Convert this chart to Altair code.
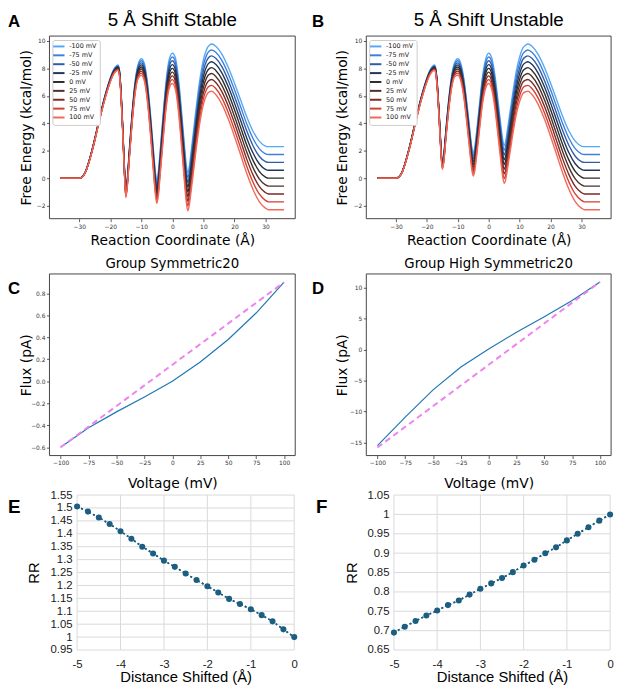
import altair as alt
import pandas as pd

# ---------------- Panels A / B : free-energy profiles ----------------
volts = [-100, -75, -50, -25, 0, 25, 50, 75, 100]
volt_labels = ["-100 mV", "-75 mV", "-50 mV", "-25 mV", "0 mV",
               "25 mV", "50 mV", "75 mV", "100 mV"]
volt_colors = ["#55a8f8", "#3d80dc", "#2f5ca6", "#223656", "#2b2b2b",
               "#4c302c", "#7c2a26", "#d2402f", "#f2685a"]

rc_x = [-36, -30, -29, -28, -27, -26, -25, -24, -23, -22, -21, -20, -19, -18,
        -17.5, -17, -16.5, -16, -15.5, -15, -14.5, -14, -13, -12, -11, -10,
        -9, -8, -7, -6, -5.5, -5, -4.5, -4, -3, -2, -1, 0, 1, 2, 3, 4, 4.5,
        5, 5.5, 6, 7, 8, 9, 10, 11, 12, 12.7, 14, 16, 18, 20, 22, 24, 26, 28,
        30, 31, 32, 36]
# 0 mV curve
base_stable = [0, 0, 0.1, 0.45, 1.1, 1.9, 2.8, 3.8, 4.75, 5.65, 6.45, 7.15, 7.7, 8.0,
               8.05, 7.6, 6.0, 3.6, 0.9, -1.15, -0.3, 1.3, 4.3, 6.6, 7.8, 8.1,
               7.7, 6.2, 3.8, 1.0, -0.3, -1.0, -0.4, 0.9, 3.6, 6.1, 7.6, 8.0, 7.6, 6.0, 3.5, 0.8, -0.4,
               -1.0, -0.5, 0.4, 2.3, 4.2, 5.8, 7.0, 7.7, 8.0, 8.05, 7.85, 7.2, 6.2, 5.0, 3.7, 2.4, 1.3, 0.5,
               0.08, 0, 0, 0]
# 0 mV curve
base_unstable = [0, 0, 0.1, 0.45, 1.1, 1.9, 2.8, 3.8, 4.75, 5.65, 6.45, 7.15, 7.7, 8.0,
                 8.05, 7.6, 6.3, 4.4, 2.3, 0.9, 1.5, 2.8, 5.2, 7.0, 7.9, 8.1,
                 7.7, 6.5, 4.6, 2.5, 1.5, 1.0, 1.4, 2.3, 4.4, 6.4, 7.6, 8.0, 7.6, 6.3, 4.4, 2.4, 1.5,
                 1.0, 1.3, 2.0, 3.5, 5.0, 6.3, 7.2, 7.8, 8.0, 8.05, 7.85, 7.2, 6.2, 5.0, 3.7, 2.4, 1.3, 0.5,
                 0.08, 0, 0, 0]
# spacing between neighbouring curves (per 25 mV)
step_25mV = [0, 0, 0.003, 0.006, 0.01, 0.014, 0.018, 0.022, 0.026, 0.03, 0.034, 0.038, 0.042, 0.046,
             0.048, 0.05, 0.053, 0.056, 0.06, 0.065, 0.072, 0.08, 0.095, 0.11, 0.13, 0.15,
             0.16, 0.172, 0.185, 0.197, 0.203, 0.21, 0.215, 0.22, 0.233, 0.248, 0.262, 0.275, 0.289,
             0.303, 0.317, 0.331, 0.338, 0.345, 0.35, 0.357, 0.37, 0.382, 0.393, 0.405, 0.415, 0.425,
             0.43, 0.44, 0.455, 0.47, 0.485, 0.5, 0.515, 0.53, 0.55, 0.565, 0.575, 0.575, 0.575]
energy_domain_x = [-39.6, 39.6]
energy_domain_y = [-2.95, 10.35]
energy_ticks_x = [-30, -20, -10, 0, 10, 20, 30]
energy_ticks_y = [-2, 0, 2, 4, 6, 8, 10]

# ---------------- Panels C / D : I-V curves ----------------
iv_volt = [-100, -75, -50, -25, 0, 25, 50, 75, 100]
flux_sym = [-0.6, -0.423, -0.278, -0.142, 0.0, 0.175, 0.38, 0.62, 0.9]
flux_high = [-15.5, -10.9, -6.5, -2.8, 0.1, 2.8, 5.3, 7.9, 10.9]
ideal_volt = [-100, 100]
ideal_sym = [-0.6, 0.9]
ideal_high = [-15.8, 10.9]
iv_domain_x = [-110, 110]
iv_ticks_x = [-100, -75, -50, -25, 0, 25, 50, 75, 100]
sym_domain_y = [-0.675, 0.975]
sym_ticks_y = [-0.6, -0.4, -0.2, 0.0, 0.2, 0.4, 0.6, 0.8]
high_domain_y = [-17.1, 12.2]
high_ticks_y = [-15, -10, -5, 0, 5, 10]

# ---------------- Panels E / F : rectification ratio ----------------
shift = [-5, -4.75, -4.5, -4.25, -4, -3.75, -3.5, -3.25, -3, -2.75, -2.5,
         -2.25, -2, -1.75, -1.5, -1.25, -1, -0.75, -0.5, -0.25, 0]
rr_stable = [1.506, 1.486, 1.463, 1.438, 1.410, 1.381, 1.350, 1.324, 1.296, 1.272, 1.246,
             1.221, 1.197, 1.173, 1.148, 1.128, 1.108, 1.085, 1.061, 1.030, 1.0]
rr_unstable = [0.695, 0.710, 0.725, 0.739, 0.752, 0.766, 0.778, 0.793, 0.808, 0.822, 0.836,
               0.851, 0.868, 0.883, 0.900, 0.915, 0.933, 0.950, 0.967, 0.984, 1.0]
shift_ticks = [-5, -4, -3, -2, -1, 0]
rr_stable_ticks = [0.95, 1.0, 1.05, 1.1, 1.15, 1.2, 1.25, 1.3, 1.35, 1.4, 1.45, 1.5, 1.55]
rr_unstable_ticks = [0.65, 0.7, 0.75, 0.8, 0.85, 0.9, 0.95, 1.0, 1.05]

# ---------------- layout (pixels inside the single view) ----------------
W, H = 618, 678
MPL = "DejaVu Sans"
ARIAL = "Liberation Sans"


def text_layer(txt, x, y, font, size, weight="normal", align="left", baseline="top"):
    return alt.Chart(pd.DataFrame({"t": [txt]})).mark_text(
        font=font, fontSize=size, fontWeight=weight, align=align,
        baseline=baseline, color="black").encode(
        text="t:N", x=alt.value(x), y=alt.value(y))


def mpl_x_axis(title, values, fmt, bottom, tx, ty):
    return alt.Axis(title=title, values=values, format=fmt, orient="bottom",
                    offset=bottom - H, grid=False, domain=False, ticks=True,
                    tickSize=3, tickColor="#333333", tickWidth=0.8,
                    labelOverlap=False, labelFlush=False,
                    labelFont=MPL, labelFontSize=6, labelColor="#333333",
                    labelPadding=1.5, titleFont=MPL, titleFontSize=14,
                    titleFontWeight="normal", titleColor="black",
                    titleX=tx, titleY=ty, titleAlign="center", titleBaseline="middle")


def mpl_y_axis(title, values, fmt, left, tx, ty):
    return alt.Axis(title=title, values=values, format=fmt, orient="left",
                    offset=-left, grid=False, domain=False, ticks=True,
                    tickSize=3, tickColor="#333333", tickWidth=0.8,
                    labelOverlap=False, labelFlush=False,
                    labelFont=MPL, labelFontSize=6, labelColor="#333333",
                    labelPadding=1.5, titleFont=MPL, titleFontSize=14,
                    titleFontWeight="normal", titleColor="black", titleAngle=270,
                    titleX=tx, titleY=ty, titleAlign="center", titleBaseline="middle")


def frame(xd, yd):
    return alt.Chart(pd.DataFrame({"f": [0]})).mark_rect(
        fillOpacity=0, stroke="#444444", strokeWidth=1).encode(
        x=alt.datum(xd[0]), x2=alt.datum(xd[1]),
        y=alt.datum(yd[0]), y2=alt.datum(yd[1]))


def energy_panel(base, box, ytx, legend_xy):
    x0, x1, y0, y1 = box
    rows = []
    for v, lab in zip(volts, volt_labels):
        for xi, b, s in zip(rc_x, base, step_25mV):
            rows.append({"x": xi, "G": b - (v / 25.0) * s, "V": lab, "k": v})
    df = pd.DataFrame(rows)
    lines = alt.Chart(df).mark_line(strokeWidth=1.4, interpolate="monotone").encode(
        x=alt.X("x:Q", scale=alt.Scale(domain=energy_domain_x, range=[x0, x1],
                                       nice=False, zero=False),
                axis=mpl_x_axis("Reaction Coordinate (Å)", energy_ticks_x, "d",
                                y1, (x0 + x1) / 2, 22)),
        y=alt.Y("G:Q", scale=alt.Scale(domain=energy_domain_y, range=[y1, y0],
                                       nice=False, zero=False),
                axis=mpl_y_axis("Free Energy (kcal/mol)", energy_ticks_y, "d",
                                x0, ytx, (y0 + y1) / 2)),
        color=alt.Color("V:N", scale=alt.Scale(domain=volt_labels, range=volt_colors),
                        legend=alt.Legend(title=None, orient="none",
                                          legendX=legend_xy[0], legendY=legend_xy[1],
                                          padding=3, rowPadding=0,
                                          labelFont=MPL, labelFontSize=6.5,
                                          labelColor="#222222", labelOffset=7,
                                          symbolType="M-2.3,0L2.3,0", symbolSize=25,
                                          symbolStrokeWidth=2,
                                          strokeColor="#cccccc", fillColor="white",
                                          cornerRadius=2)),
        detail="k:Q",
    )
    return alt.layer(lines, frame(energy_domain_x, energy_domain_y))


def iv_panel(flux, ideal, ydom, yvals, yfmt, box, ytx):
    x0, x1, y0, y1 = box
    df = pd.DataFrame({"V": iv_volt, "I": flux})
    di = pd.DataFrame({"V": ideal_volt, "I": ideal})
    xenc = alt.X("V:Q", scale=alt.Scale(domain=iv_domain_x, range=[x0, x1],
                                        nice=False, zero=False),
                 axis=mpl_x_axis("Voltage (mV)", iv_ticks_x, "d", y1, (x0 + x1) / 2, 28))
    yenc = alt.Y("I:Q", scale=alt.Scale(domain=ydom, range=[y1, y0], nice=False, zero=False),
                 axis=mpl_y_axis("Flux (pA)", yvals, yfmt, x0, ytx, (y0 + y1) / 2))
    line = alt.Chart(df).mark_line(color="#1f77b4", strokeWidth=1.2).encode(x=xenc, y=yenc)
    dash = alt.Chart(di).mark_line(color="#ee82ee", strokeWidth=2,
                                   strokeDash=[6, 4]).encode(x="V:Q", y="I:Q")
    return alt.layer(line, dash, frame(iv_domain_x, ydom))


def rr_panel(rr, ydom, yvals, box, ytx):
    x0, x1, y0, y1 = box
    df = pd.DataFrame({"d": shift, "rr": rr})
    common = dict(grid=False, domain=False, ticks=False, labelOverlap=False,
                  labelFlush=False, labelFont=ARIAL, labelFontSize=11.5,
                  labelColor="#1a1a1a", titleFont=ARIAL, titleFontWeight="normal",
                  titleFontSize=15, titleColor="black", titleAlign="center",
                  titleBaseline="middle")
    xenc = alt.X("d:Q", scale=alt.Scale(domain=[shift_ticks[0], shift_ticks[-1]],
                                        range=[x0, x1], nice=False, zero=False),
                 axis=alt.Axis(title="Distance Shifted (Å)", values=shift_ticks,
                               labelExpr="'' + datum.value", labelPadding=9,
                               orient="bottom", offset=y1 - H,
                               titleX=(x0 + x1) / 2, titleY=27, **common))
    yenc = alt.Y("rr:Q", scale=alt.Scale(domain=ydom, range=[y1, y0], nice=False, zero=False),
                 axis=alt.Axis(title="RR", values=yvals, format="~g", labelPadding=5,
                               orient="left", offset=-x0, titleAngle=270,
                               titleX=ytx, titleY=(y0 + y1) / 2, **common))
    vgrid = alt.Chart(pd.DataFrame({"d": shift_ticks})).mark_rule(
        color="#d9d9d9", strokeWidth=1).encode(
        x="d:Q", y=alt.datum(ydom[0]), y2=alt.datum(ydom[1]))
    hgrid = alt.Chart(pd.DataFrame({"rr": yvals})).mark_rule(
        color="#d9d9d9", strokeWidth=1).encode(
        y="rr:Q", x=alt.datum(shift_ticks[0]), x2=alt.datum(shift_ticks[-1]))
    base = alt.Chart(df).encode(x=xenc, y=yenc)
    line = base.mark_line(color="#1b5e80", strokeWidth=1.6, strokeDash=[2, 2.5])
    pts = base.mark_circle(color="#1b5e80", size=38, opacity=1)
    return alt.layer(line, vgrid, hgrid, line, pts)


# panel boxes: (left, right, top, bottom) in view pixels
BOX_A = (42, 291, 24, 209)
BOX_B = (363, 611, 24, 209)
BOX_C = (42, 291, 265, 449)
BOX_D = (363, 611, 265, 449)
BOX_E = (70, 290, 489, 646)
BOX_F = (391, 610, 489, 646)

pA = energy_panel(base_stable, BOX_A, -23, (45, 28))
pB = energy_panel(base_unstable, BOX_B, -24, (366, 28))
pC = iv_panel(flux_sym, ideal_sym, sym_domain_y, sym_ticks_y, ".1f", BOX_C, -23)
pD = iv_panel(flux_high, ideal_high, high_domain_y, high_ticks_y, "d", BOX_D, -24)
pE = rr_panel(rr_stable, [rr_stable_ticks[0], rr_stable_ticks[-1]], rr_stable_ticks, BOX_E, -44)
pF = rr_panel(rr_unstable, [rr_unstable_ticks[0], rr_unstable_ticks[-1]], rr_unstable_ticks,
              BOX_F, -43)

texts = [
    text_layer("A", 0, 2, ARIAL, 17, "bold"),
    text_layer("B", 308, 2, ARIAL, 17, "bold"),
    text_layer("C", 0, 272, ARIAL, 17, "bold"),
    text_layer("D", 308, 272, ARIAL, 17, "bold"),
    text_layer("E", 0, 492, ARIAL, 19, "bold"),
    text_layer("F", 312, 492, ARIAL, 19, "bold"),
    text_layer("5 Å Shift Stable", (BOX_A[0] + BOX_A[1]) / 2, 8, ARIAL, 19,
               align="center", baseline="middle"),
    text_layer("5 Å Shift Unstable", (BOX_B[0] + BOX_B[1]) / 2, 8, ARIAL, 19,
               align="center", baseline="middle"),
    text_layer("Group Symmetric20", (BOX_C[0] + BOX_C[1]) / 2, 255, MPL, 13.5,
               align="center", baseline="middle"),
    text_layer("Group High Symmetric20", (BOX_D[0] + BOX_D[1]) / 2, 255, MPL, 13.5,
               align="center", baseline="middle"),
]

chart = alt.layer(pA, pB, pC, pD, pE, pF, *texts).resolve_scale(
    x="independent", y="independent", color="independent"
).properties(
    width=W, height=H, padding=0, background="white",
    autosize=alt.AutoSizeParams(type="none"),
).configure_view(strokeOpacity=0)

chart.save("out.html", embed_options={"renderer": "svg", "actions": False})
